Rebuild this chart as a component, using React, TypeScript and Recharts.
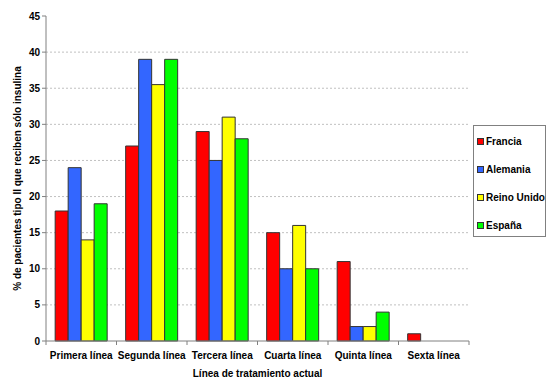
import { BarChart, Bar, XAxis, YAxis, CartesianGrid, Label } from "recharts";

const lineas = ["Primera línea", "Segunda línea", "Tercera línea", "Cuarta línea", "Quinta línea", "Sexta línea"];
const francia = [18, 27, 29, 15, 11, 1];
const alemania = [24, 39, 25, 10, 2, 0];
const reinoUnido = [14, 35.5, 31, 16, 2, 0];
const espana = [19, 39, 28, 10, 4, 0];
const yTicks = [0, 5, 10, 15, 20, 25, 30, 35, 40, 45];

const series = [
	{ key: "francia", name: "Francia", color: "#FF0000" },
	{ key: "alemania", name: "Alemania", color: "#3366FF" },
	{ key: "reino", name: "Reino Unido", color: "#FFFF00" },
	{ key: "espana", name: "España", color: "#00FF00" },
];

const data = lineas.map((linea, i) => ({
	linea,
	francia: francia[i],
	alemania: alemania[i],
	reino: reinoUnido[i],
	espana: espana[i],
}));

const font = "'Liberation Sans', Arial, sans-serif";
const W = 550;
const H = 383;
const M = { top: 16, right: 81, bottom: 0, left: 0 };
const yW = 46;
const xH = 42;
const bandW = (W - M.left - yW - M.right) / lineas.length;

const XTick = (props: any) => {
	const { x, y, payload, index } = props;
	return (
		<g>
			{index === 0 && <line x1={x - bandW / 2} x2={x - bandW / 2} y1={y - 8} y2={y - 4} stroke="#808080" />}
			<line x1={x + bandW / 2} x2={x + bandW / 2} y1={y - 8} y2={y - 4} stroke="#808080" />
			<text x={x} y={y + 10} textAnchor="middle" fontSize={10} fontWeight="bold" fontFamily={font} fill="#000">
				{payload.value}
			</text>
		</g>
	);
};

const LegendBox = () => (
	<div
		style={{
			position: "absolute",
			left: 473,
			top: 125,
			width: 73,
			height: 112,
			border: "1px solid #808080",
			background: "#fff",
			fontFamily: font,
			fontSize: 10,
			fontWeight: "bold",
			boxSizing: "border-box",
			paddingTop: 1,
		}}
	>
		{series.map((s) => (
			<div key={s.key} style={{ display: "flex", alignItems: "center", height: 28, paddingLeft: 3, whiteSpace: "nowrap" }}>
				<span style={{ width: 5, height: 5, background: s.color, border: "1px solid #333", marginRight: 2, display: "inline-block" }}></span>
				<span>{s.name}</span>
			</div>
		))}
	</div>
);

const App = () => {
	return (
		<div style={{ position: "absolute", left: 0, top: 0, width: W, height: H, background: "#fff" }}>
			<BarChart width={W} height={H} data={data} margin={M} barCategoryGap="13%" barGap={0}>
				<CartesianGrid
					vertical={false}
					stroke="#C0C0C0"
					strokeDasharray="2 2"
					horizontalValues={yTicks.filter((t) => t > 0 && t < 45)}
				/>
				<XAxis
					dataKey="linea"
					height={xH}
					interval={0}
					tickLine={false}
					axisLine={{ stroke: "#808080" }}
					tick={<XTick />}
				>
					<Label
						value="Línea de tratamiento actual"
						position="insideBottom"
						offset={6}
						style={{ fontFamily: font, fontSize: 10, fontWeight: "bold", fill: "#000" }}
					/>
				</XAxis>
				<XAxis xAxisId="t" dataKey="linea" orientation="top" height={0} tick={false} tickLine={false} axisLine={{ stroke: "#A8A8A8" }} />
				<YAxis
					width={yW}
					domain={[0, 45]}
					ticks={yTicks}
					interval={0}
					tickSize={4}
					axisLine={{ stroke: "#808080" }}
					tickLine={{ stroke: "#808080" }}
					tick={{ fontSize: 10, fontWeight: "bold", fontFamily: font, fill: "#000" }}
				>
					<Label
						value="% de pacientes tipo II que reciben sólo insulina"
						angle={-90}
						position="insideLeft"
						offset={17}
						style={{ textAnchor: "middle", fontFamily: font, fontSize: 10, fontWeight: "bold", fill: "#000" }}
					/>
				</YAxis>
				<YAxis yAxisId="r" orientation="right" width={0} domain={[0, 45]} tick={false} tickLine={false} axisLine={{ stroke: "#B0B0B0", strokeWidth: 2 }} />
				{series.map((s) => (
					<Bar
						key={s.key}
						dataKey={s.key}
						name={s.name}
						fill={s.color}
						stroke="#333333"
						strokeWidth={1}
						isAnimationActive={false}
					/>
				))}
			</BarChart>
			<LegendBox />
		</div>
	);
};

export default App;
